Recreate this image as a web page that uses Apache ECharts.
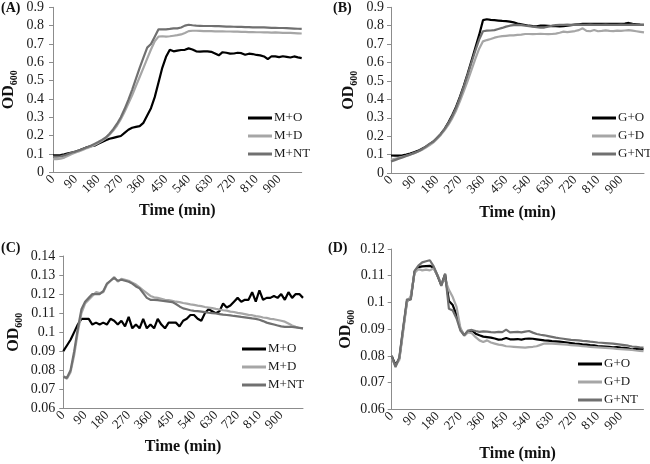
<!DOCTYPE html>
<html>
<head>
<meta charset="utf-8">
<script src="https://cdn.jsdelivr.net/npm/echarts@6/dist/echarts.min.js"></script>
<style>html,body{margin:0;padding:0;background:#fff}#c{width:650px;height:464px}</style>
</head>
<body>
<div id="c"></div>
<script>
// Time points (min), 15-min steps
const times = [0,15,30,45,60,75,90,105,120,135,150,165,180,195,210,225,240,255,270,285,
  300,315,330,345,360,375,390,405,420,435,450,465,480,495,510,525,540,555,570,585,
  600,615,630,645,660,675,690,705,720,735,750,765,780,795,810,825,840,855,870,885,
  900,915,930,945,960,975,990];

// Panel A
const A_MO = [0.092,0.092,0.094,0.098,0.103,0.108,0.113,0.120,0.128,0.136,
  0.142,0.145,0.155,0.165,0.175,0.183,0.188,0.193,0.198,0.215,
  0.232,0.243,0.248,0.252,0.270,0.310,0.350,0.410,0.490,0.570,
  0.630,0.668,0.660,0.664,0.667,0.668,0.676,0.670,0.660,0.658,
  0.660,0.660,0.657,0.648,0.638,0.655,0.652,0.647,0.648,0.652,
  0.650,0.641,0.647,0.645,0.640,0.638,0.632,0.617,0.633,0.632,
  0.628,0.633,0.630,0.626,0.632,0.627,0.623];
const A_MD = [0.072,0.072,0.074,0.080,0.090,0.100,0.108,0.115,0.123,0.132,
  0.140,0.148,0.160,0.172,0.185,0.205,0.228,0.255,0.290,0.330,
  0.375,0.420,0.470,0.520,0.570,0.620,0.670,0.715,0.740,0.742,
  0.740,0.742,0.745,0.748,0.752,0.760,0.770,0.772,0.772,0.771,
  0.770,0.770,0.770,0.769,0.769,0.769,0.768,0.768,0.767,0.767,
  0.766,0.766,0.765,0.765,0.764,0.764,0.763,0.763,0.762,0.763,
  0.762,0.761,0.760,0.760,0.759,0.758,0.757];
const A_MNT = [0.085,0.085,0.087,0.092,0.100,0.108,0.113,0.120,0.128,0.137,
  0.145,0.155,0.165,0.177,0.190,0.210,0.235,0.265,0.300,0.345,
  0.395,0.450,0.510,0.570,0.625,0.680,0.700,0.740,0.780,0.780,
  0.780,0.782,0.785,0.785,0.790,0.800,0.805,0.802,0.800,0.799,
  0.798,0.798,0.798,0.797,0.797,0.796,0.795,0.795,0.794,0.793,
  0.793,0.792,0.792,0.791,0.791,0.790,0.790,0.789,0.788,0.788,
  0.787,0.787,0.786,0.785,0.784,0.783,0.782];

// Panel B
const B_GO = [0.095,0.094,0.094,0.096,0.100,0.106,0.113,0.120,0.130,0.142,
  0.155,0.170,0.190,0.212,0.240,0.275,0.315,0.360,0.415,0.475,
  0.540,0.610,0.680,0.750,0.830,0.835,0.832,0.830,0.828,0.826,
  0.825,0.822,0.818,0.812,0.808,0.804,0.800,0.798,0.797,0.800,
  0.800,0.799,0.798,0.797,0.796,0.797,0.800,0.803,0.806,0.808,
  0.810,0.810,0.810,0.810,0.810,0.810,0.810,0.810,0.810,0.810,
  0.810,0.812,0.815,0.810,0.808,0.806,0.805];
const B_GD = [0.072,0.077,0.082,0.088,0.094,0.100,0.107,0.115,0.125,0.137,
  0.150,0.165,0.185,0.207,0.233,0.263,0.298,0.340,0.390,0.445,
  0.500,0.560,0.620,0.675,0.715,0.722,0.728,0.735,0.740,0.743,
  0.745,0.747,0.748,0.750,0.752,0.755,0.755,0.754,0.755,0.756,
  0.755,0.754,0.755,0.757,0.762,0.768,0.765,0.768,0.771,0.776,
  0.786,0.772,0.770,0.777,0.770,0.772,0.775,0.772,0.771,0.773,
  0.772,0.774,0.776,0.773,0.770,0.767,0.764];
const B_GNT = [0.062,0.070,0.078,0.085,0.093,0.100,0.108,0.117,0.128,0.142,
  0.158,0.170,0.190,0.212,0.240,0.272,0.310,0.355,0.410,0.470,
  0.535,0.600,0.665,0.725,0.770,0.773,0.774,0.776,0.782,0.788,
  0.795,0.800,0.803,0.805,0.803,0.800,0.798,0.795,0.792,0.790,
  0.790,0.795,0.800,0.803,0.805,0.805,0.806,0.805,0.805,0.806,
  0.805,0.805,0.806,0.805,0.805,0.805,0.806,0.805,0.805,0.805,
  0.806,0.805,0.805,0.806,0.805,0.805,0.805];

// Panel C
const C_MO = [0.090,0.093,0.096,0.100,0.104,0.107,0.107,0.107,0.104,0.105,
  0.104,0.105,0.104,0.107,0.106,0.104,0.106,0.103,0.108,0.102,
  0.104,0.102,0.107,0.102,0.104,0.102,0.107,0.104,0.102,0.105,
  0.105,0.105,0.103,0.106,0.107,0.109,0.109,0.107,0.106,0.110,
  0.112,0.111,0.110,0.111,0.115,0.113,0.114,0.116,0.118,0.116,
  0.117,0.117,0.121,0.116,0.122,0.117,0.118,0.118,0.119,0.118,
  0.120,0.117,0.121,0.118,0.120,0.120,0.118];
const C_MD = [0.077,0.0755,0.079,0.088,0.100,0.110,0.115,0.117,0.119,0.121,
  0.1205,0.121,0.125,0.127,0.129,0.1265,0.128,0.1275,0.127,0.126,
  0.125,0.1235,0.122,0.1205,0.119,0.1183,0.118,0.1175,0.117,0.1168,
  0.1165,0.116,0.1158,0.1153,0.1150,0.1146,0.1143,0.1139,0.1137,0.1132,
  0.1129,0.1126,0.1122,0.1119,0.1115,0.1113,0.1108,0.1106,0.1101,0.1099,
  0.1095,0.1091,0.1089,0.1084,0.1082,0.1077,0.1075,0.1070,0.1068,0.1064,
  0.1060,0.1055,0.1045,0.1035,0.1028,0.1023,0.1020];
const C_MNT = [0.0765,0.076,0.080,0.090,0.102,0.112,0.116,0.118,0.120,0.120,
  0.120,0.1215,0.1255,0.127,0.1285,0.127,0.1275,0.127,0.1265,0.1255,
  0.124,0.123,0.1205,0.118,0.117,0.117,0.1168,0.1165,0.1163,0.116,
  0.1158,0.1148,0.1135,0.1125,0.112,0.1115,0.1112,0.111,0.1108,0.1105,
  0.1102,0.110,0.1098,0.1095,0.1092,0.109,0.1088,0.1085,0.1083,0.108,
  0.1078,0.1075,0.1072,0.107,0.1065,0.1058,0.105,0.1045,0.104,0.1035,
  0.103,0.1028,0.1028,0.1027,0.1025,0.1022,0.102];

// Panel D
const D_GO = [0.080,0.0765,0.079,0.090,0.1005,0.1015,0.1115,0.1132,0.1135,0.1136,
  0.1137,0.113,0.110,0.1065,0.1105,0.1005,0.099,0.0952,0.090,0.0878,
  0.089,0.0895,0.0883,0.0877,0.0872,0.087,0.0868,0.0865,0.0861,0.0862,
  0.0867,0.0862,0.0862,0.0863,0.0861,0.0864,0.0865,0.0864,0.0862,0.086,
  0.0858,0.0857,0.0855,0.0854,0.0853,0.0852,0.085,0.0848,0.0846,0.0845,
  0.0843,0.0842,0.084,0.0839,0.0837,0.0836,0.0835,0.0834,0.0832,0.0833,
  0.0831,0.083,0.0828,0.0824,0.0827,0.0826,0.0825];
const D_GD = [0.079,0.0762,0.0785,0.089,0.100,0.1025,0.111,0.1125,0.112,0.1123,
  0.112,0.1128,0.1102,0.107,0.1085,0.1047,0.102,0.0983,0.0905,0.0875,
  0.0888,0.0885,0.087,0.0858,0.0852,0.0858,0.085,0.0846,0.0842,0.084,
  0.0836,0.0835,0.0834,0.0833,0.0832,0.0831,0.0833,0.0834,0.0836,0.0841,
  0.0846,0.0847,0.0846,0.0845,0.0844,0.0843,0.0842,0.084,0.0839,0.0838,
  0.0836,0.0835,0.0834,0.0833,0.0832,0.0831,0.083,0.0829,0.0828,0.0826,
  0.0825,0.0824,0.0823,0.0822,0.082,0.0819,0.0818];
const D_GNT = [0.080,0.0758,0.0795,0.0905,0.1012,0.101,0.1118,0.1138,0.115,0.1154,
  0.1158,0.1135,0.1102,0.1062,0.1108,0.0976,0.097,0.094,0.0895,0.0877,
  0.0895,0.0897,0.0893,0.089,0.0892,0.0891,0.0889,0.0888,0.089,0.0889,
  0.0898,0.0888,0.0889,0.089,0.0888,0.0891,0.0893,0.0887,0.0882,0.0879,
  0.0877,0.0874,0.0871,0.0868,0.0866,0.0864,0.0862,0.086,0.0859,0.0858,
  0.0856,0.0855,0.0853,0.0852,0.085,0.0849,0.0848,0.0847,0.0846,0.0844,
  0.0842,0.084,0.0838,0.0835,0.0834,0.0832,0.0831];

const panelLabels = ['(A)','(B)','(C)','(D)'];
const legendA = ['M+O','M+D','M+NT'];
const legendB = ['G+O','G+D','G+NT'];

const FONT = '"Liberation Serif","Times New Roman",serif';
const COL_O = '#000000', COL_D = '#a6a6a6', COL_NT = '#707070';
const AXC = '#8c8c8c';

const grids = [
  {left:52.7, right:348.3, top:7.3, bottom:291.7},
  {left:391, right:6, top:7.3, bottom:291},
  {left:63.3, right:347, top:256, bottom:55.7},
  {left:391.7, right:6.5, top:249, bottom:54.7}
];
const yRanges = [
  {min:0, max:0.9, interval:0.1},
  {min:0, max:0.9, interval:0.1},
  {min:0.06, max:0.14, interval:0.01},
  {min:0.06, max:0.12, interval:0.01}
];
const xNameGap = [31, 32, 31, 37];
const yNameGap = [34, 32, 39, 33];
const yLabelMargin = [9, 7, 8, 7];

const xAxes = grids.map((g,i)=>({
  type:'category', gridIndex:i, data:times, boundaryGap:false,
  axisLine:{lineStyle:{color:AXC, width:1}},
  axisTick:{show:false},
  axisLabel:{interval:(idx)=> idx%6===0 && idx<66, rotate:45, fontFamily:FONT, fontSize:13, color:'#1a1a1a', margin:5},
  name:'Time (min)', nameLocation:'middle', nameGap:xNameGap[i],
  nameTextStyle:{fontFamily:FONT, fontWeight:'bold', fontSize:16, color:'#111'}
}));
const yAxes = grids.map((g,i)=>({
  type:'value', gridIndex:i, min:yRanges[i].min, max:yRanges[i].max, interval:yRanges[i].interval,
  axisLine:{show:true, lineStyle:{color:AXC, width:1}},
  axisTick:{show:true, length:4, lineStyle:{color:AXC}},
  splitLine:{show:false},
  axisLabel:{fontFamily:FONT, fontSize:14, color:'#1a1a1a', margin:yLabelMargin[i]},
  name:'{o|OD}{s|600}', nameLocation:'middle', nameRotate:90, nameGap:yNameGap[i],
  nameTextStyle:{
    color:'#111',
    rich:{
      o:{fontFamily:FONT, fontWeight:'bold', fontSize:16, lineHeight:20, verticalAlign:'middle', color:'#111'},
      s:{fontFamily:FONT, fontWeight:'bold', fontSize:10, lineHeight:10, verticalAlign:'bottom', color:'#111'}
    }
  }
}));

function mk(name, data, color, gi){
  return {type:'line', name, data, xAxisIndex:gi, yAxisIndex:gi, symbol:'none', showSymbol:false,
    lineStyle:{color, width:2.2}, itemStyle:{color}, animation:false};
}
const series = [
  mk(legendA[0], A_MO, COL_O, 0), mk(legendA[1], A_MD, COL_D, 0), mk(legendA[2], A_MNT, COL_NT, 0),
  mk(legendB[0], B_GO, COL_O, 1), mk(legendB[1], B_GD, COL_D, 1), mk(legendB[2], B_GNT, COL_NT, 1),
  mk(legendA[0], C_MO, COL_O, 2), mk(legendA[1], C_MD, COL_D, 2), mk(legendA[2], C_MNT, COL_NT, 2),
  mk(legendB[0], D_GO, COL_O, 3), mk(legendB[1], D_GD, COL_D, 3), mk(legendB[2], D_GNT, COL_NT, 3)
];

function lg(data, left, top){
  return {data, orient:'vertical', left, top, icon:'rect', itemWidth:24, itemHeight:3, itemGap:4, padding:0,
    selectedMode:false, textStyle:{fontFamily:FONT, fontSize:13, lineHeight:14, color:'#1a1a1a', padding:[0,0,0,-3]}};
}
const legends = [lg(legendA, 248, 111), lg(legendB, 592, 111), lg(legendA, 242, 342), lg(legendB, 578, 357)];

const labelPos = [[1,1],[333,1],[1,241],[328,241]];
const graphic = panelLabels.map((t,i)=>({
  type:'text', left:labelPos[i][0], top:labelPos[i][1],
  style:{text:t, fontFamily:FONT, fontWeight:'bold', fontSize:14, fill:'#111'}
}));

const chart = echarts.init(document.getElementById('c'), null, {renderer:'canvas'});
chart.setOption({
  animation:false,
  backgroundColor:'#ffffff',
  grid:grids, xAxis:xAxes, yAxis:yAxes, series, legend:legends, graphic
});
</script>
</body>
</html>
